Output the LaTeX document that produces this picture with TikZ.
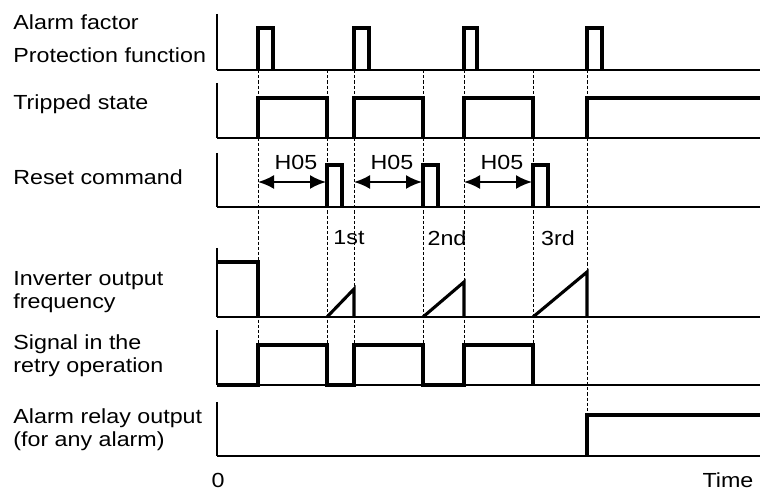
\documentclass[tikz,border=0pt]{standalone}
\usepackage{fontspec}
\setmainfont{Liberation Sans}[FakeStretch=1.14]
\usetikzlibrary{arrows.meta}

\begin{document}
\begin{tikzpicture}[x=0.5pt, y=-0.5pt, >={Latex[length=8pt,width=7pt]},
  txt/.style={inner sep=0pt, font=\fontsize{10.2}{11.6}\selectfont},
  lbl/.style={txt, anchor=west, align=left},
  axis/.style={line width=0.75pt},
  base/.style={line width=1.2pt},
  sig/.style={line width=1.55pt, line join=miter},
  guide/.style={line width=0.5pt, dash pattern=on 1.6pt off 1pt}]
  \useasboundingbox (0,0) rectangle (760,490);
  % labels
  \node[lbl] (alarm) at (13,22) {Alarm factor};
  \node[lbl] (prot) at (13,55) {Protection function};
  \node[lbl] (trip) at (13,104) {Tripped state};
  \node[lbl] (reset) at (13,177) {Reset command};
  \node[lbl] (freq) at (13,292) {Inverter output\\frequency};
  \node[lbl] (retry) at (13,356) {Signal in the\\retry operation};
  \node[lbl] (relay) at (13,430) {Alarm relay output\\(for any alarm)};
  \node[txt] (zero) at (218,480) {0};
  \node[txt] (time) at (728,480) {Time};
  % guides
  \draw[guide] (258,70)--(258,385); \draw[guide] (327,70)--(327,385);
  \draw[guide] (354,70)--(354,385); \draw[guide] (423,70)--(423,385);
  \draw[guide] (464,70)--(464,385); \draw[guide] (533,70)--(533,385);
  \draw[guide] (587,70)--(587,456);
  % axes
  \draw[axis] (217,14)--(217,70); \draw[axis] (217,83)--(217,138);
  \draw[axis] (217,153)--(217,207); \draw[axis] (217,248)--(217,317);
  \draw[axis] (217,330)--(217,385); \draw[axis] (217,402)--(217,456);
  \draw[base] (217,70)--(760,70); \draw[base] (217,138)--(760,138);
  \draw[base] (217,207)--(760,207); \draw[base] (217,317)--(760,317);
  \draw[base] (217,385)--(760,385); \draw[base] (217,456)--(760,456);
  % alarm factor
  \draw[sig] (258,70)--(258,28)--(273,28)--(273,70);
  \draw[sig] (354,70)--(354,28)--(369,28)--(369,70);
  \draw[sig] (464,70)--(464,28)--(477,28)--(477,70);
  \draw[sig] (587,70)--(587,28)--(602,28)--(602,70);
  % tripped state
  \draw[sig] (258,138)--(258,98)--(327,98)--(327,138);
  \draw[sig] (354,138)--(354,98)--(423,98)--(423,138);
  \draw[sig] (464,138)--(464,98)--(533,98)--(533,138);
  \draw[sig] (587,138)--(587,98)--(760,98);
  % reset command
  \draw[sig] (327,207)--(327,165)--(342,165)--(342,207);
  \draw[sig] (423,207)--(423,165)--(438,165)--(438,207);
  \draw[sig] (533,207)--(533,165)--(548,165)--(548,207);
  \draw[<->, line width=1pt] (258,182)--(326,182) node[midway,above=5.5pt,xshift=2pt,txt] (h1) {H05};
  \draw[<->, line width=1pt] (354,182)--(422,182) node[midway,above=5.5pt,xshift=2pt,txt] (h2) {H05};
  \draw[<->, line width=1pt] (464,182)--(532,182) node[midway,above=5.5pt,xshift=2pt,txt] (h3) {H05};
  \node[txt] (n1) at (349,238) {1st};
  \node[txt] (n2) at (447,238) {2nd};
  \node[txt] (n3) at (558,238) {3rd};
  % inverter output frequency
  \draw[sig] (217,262)--(258,262)--(258,317);
  \draw[sig] (327,317)--(354,289)--(354,317);
  \draw[sig] (423,317)--(464,282)--(464,317);
  \draw[sig] (533,317)--(587,272)--(587,317);
  % retry signal
  \draw[sig] (217,385)--(258,385)--(258,345)--(327,345)--(327,385)--(354,385)--(354,345)--(423,345)--(423,385)
    --(464,385)--(464,345)--(533,345)--(533,385);
  % alarm relay
  \draw[sig] (587,456)--(587,415)--(760,415);
\end{tikzpicture}
\end{document}
